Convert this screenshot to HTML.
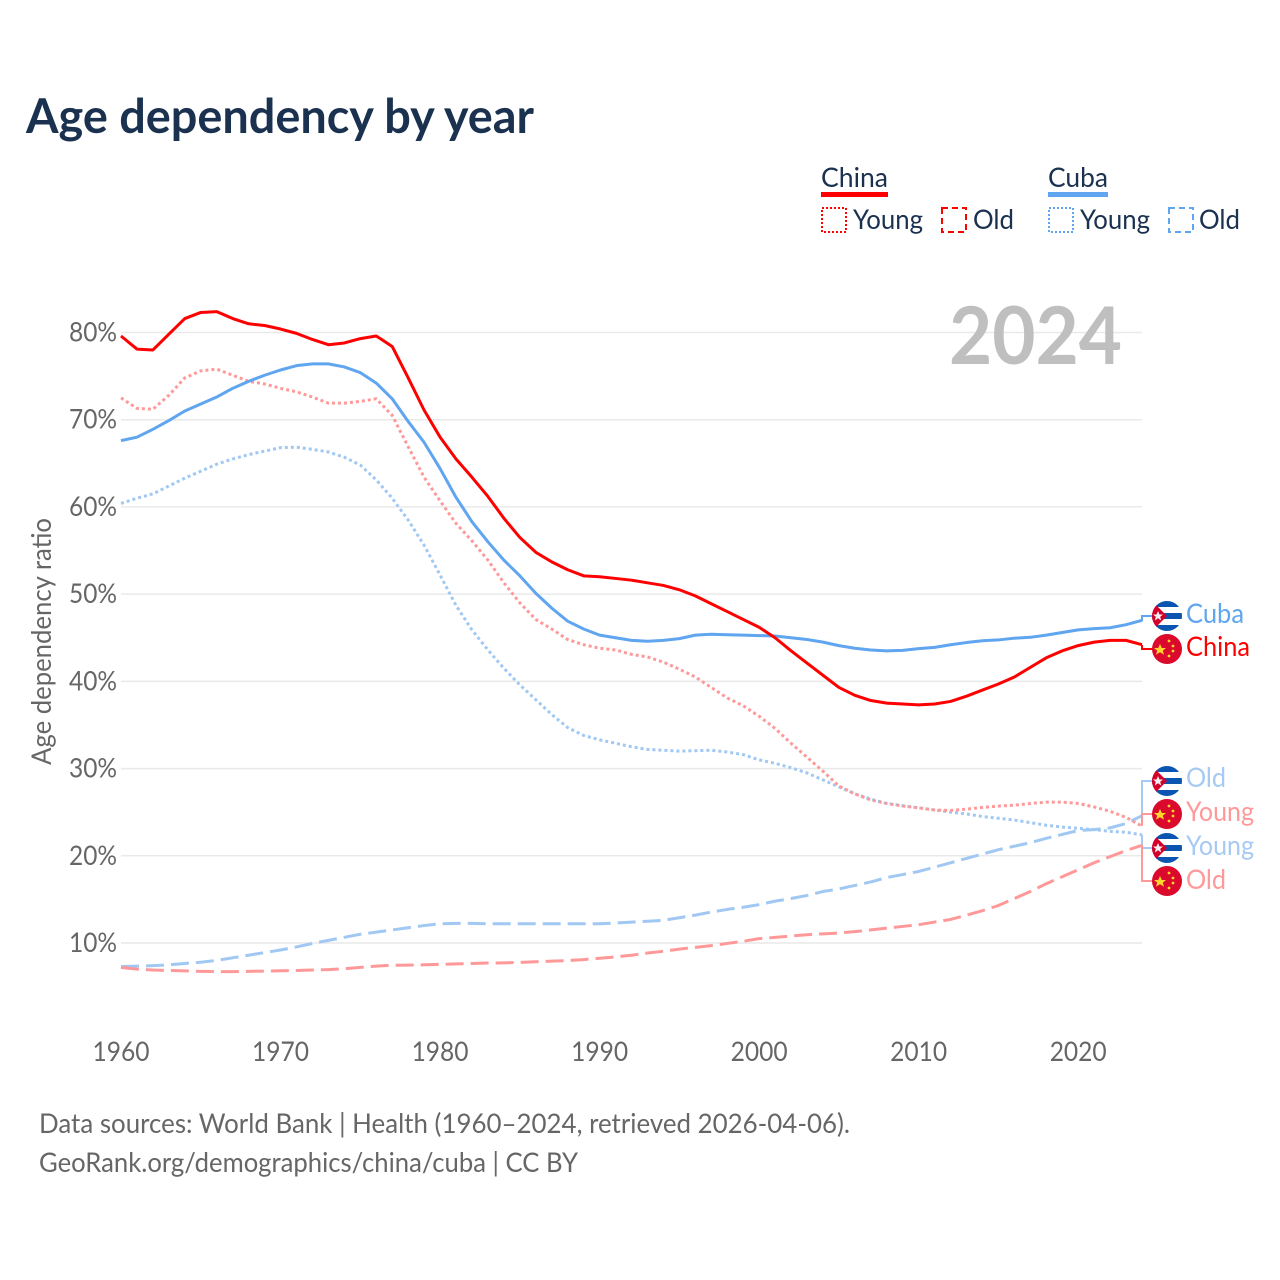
<!DOCTYPE html>
<html><head><meta charset="utf-8"><title>Age dependency by year</title>
<style>
html,body{margin:0;padding:0;background:#fff}
svg{display:block}
text{font-family:"Lato","Carlito","Liberation Sans",sans-serif}
</style></head>
<body>
<svg id="chart" width="1280" height="1280" viewBox="0 0 1280 1280" xmlns="http://www.w3.org/2000/svg">
<defs>
<clipPath id="flagClip"><circle cx="0" cy="0" r="15"/></clipPath>
<g id="cuba-flag" clip-path="url(#flagClip)">
<rect x="-15" y="-15" width="30" height="30" fill="#fff"/>
<rect x="-15" y="-15" width="30" height="6" fill="#0a55b0"/>
<rect x="-15" y="-3" width="30" height="6" fill="#0a55b0"/>
<rect x="-15" y="9" width="30" height="6" fill="#0a55b0"/>
<polygon points="-15,-15 0,0 -15,15" fill="#d5002a"/>
<polygon points="-9,-5 -7.5,-1.5 -4,-1.5 -6.8,0.8 -5.8,4.5 -9,2.3 -12.2,4.5 -11.2,0.8 -14,-1.5 -10.5,-1.5" fill="#f2f2f2"/>
</g>
<g id="china-flag" clip-path="url(#flagClip)">
<rect x="-15" y="-15" width="30" height="30" fill="#db0a2c"/>
<polygon points="-7,-5 -5.2,-1 -1,-1 -4.2,1.6 -3,5.6 -7,3.2 -11,5.6 -9.8,1.6 -13,-1 -8.8,-1" fill="#ffd52e"/>
<circle cx="2" cy="-8" r="1.4" fill="#ffd52e"/><circle cx="6" cy="-3" r="1.4" fill="#ffd52e"/><circle cx="6" cy="2" r="1.4" fill="#ffd52e"/><circle cx="2" cy="7" r="1.4" fill="#ffd52e"/>
</g>
</defs>
<text x="26" y="133" font-size="48" font-weight="700" fill="#1a3150" textLength="508" lengthAdjust="spacingAndGlyphs">Age dependency by year</text>

<g font-size="27" fill="#1a3150">
<text x="821" y="187" textLength="67" lengthAdjust="spacingAndGlyphs">China</text>
<rect x="821" y="192" width="67" height="5" fill="#ff0000"/>
<rect x="822" y="208" width="24" height="24" fill="none" stroke="#ff0000" stroke-width="2" stroke-dasharray="2 2"/>
<text x="853" y="229" textLength="70" lengthAdjust="spacingAndGlyphs">Young</text>
<rect x="942" y="208" width="24" height="24" fill="none" stroke="#ff0000" stroke-width="2" stroke-dasharray="6 4"/>
<text x="973" y="229" textLength="41" lengthAdjust="spacingAndGlyphs">Old</text>
<text x="1048" y="187" textLength="60" lengthAdjust="spacingAndGlyphs">Cuba</text>
<rect x="1048" y="192" width="60" height="5" fill="#5fa5ef"/>
<rect x="1049" y="208" width="24" height="24" fill="none" stroke="#5fa5ef" stroke-width="2" stroke-dasharray="2 2"/>
<text x="1080" y="229" textLength="70" lengthAdjust="spacingAndGlyphs">Young</text>
<rect x="1169" y="208" width="24" height="24" fill="none" stroke="#5fa5ef" stroke-width="2" stroke-dasharray="6 4"/>
<text x="1199" y="229" textLength="41" lengthAdjust="spacingAndGlyphs">Old</text>
</g>

<g id="grid"></g>
<text x="949" y="364" font-size="80" font-weight="700" fill="#bfbfbf" textLength="173" lengthAdjust="spacingAndGlyphs">2024</text>
<text transform="translate(51,765) rotate(-90)" x="0" y="0" font-size="27" fill="#666" textLength="247" lengthAdjust="spacingAndGlyphs">Age dependency ratio</text>
<g id="series"></g>

<g fill="none" stroke-width="2">
<polyline points="1142,621 1142,616 1153,616" stroke="#5fa5ef"/>
<polyline points="1142,645 1142,649 1153,649" stroke="#ff0000"/>
<polyline points="1142,817 1142,781 1153,781" stroke="#a6caf4"/>
<polyline points="1142,826 1142,814 1153,814" stroke="#ff9999"/>
<polyline points="1142,835 1142,848 1153,848" stroke="#a6caf4"/>
<polyline points="1142,845 1142,881 1153,881" stroke="#ff9999"/>
</g>
<g font-size="27">
<use href="#cuba-flag" x="1167" y="616"/>
<text x="1186" y="623" fill="#5fa5ef" textLength="58" lengthAdjust="spacingAndGlyphs">Cuba</text>
<use href="#china-flag" x="1167" y="649"/>
<text x="1186" y="656" fill="#ff0000" textLength="64" lengthAdjust="spacingAndGlyphs">China</text>
<use href="#cuba-flag" x="1167" y="781"/>
<text x="1186" y="787" fill="#a6caf4" textLength="40" lengthAdjust="spacingAndGlyphs">Old</text>
<use href="#china-flag" x="1167" y="814"/>
<text x="1186" y="821" fill="#ff9999" textLength="68" lengthAdjust="spacingAndGlyphs">Young</text>
<use href="#cuba-flag" x="1167" y="848"/>
<text x="1186" y="855" fill="#a6caf4" textLength="68" lengthAdjust="spacingAndGlyphs">Young</text>
<use href="#china-flag" x="1167" y="881"/>
<text x="1186" y="889" fill="#ff9999" textLength="40" lengthAdjust="spacingAndGlyphs">Old</text>
</g>

<g font-size="27" fill="#666">
<text x="39" y="1133" textLength="811" lengthAdjust="spacingAndGlyphs">Data sources: World Bank | Health (1960–2024, retrieved 2026-04-06).</text>
<text x="39" y="1172" textLength="539" lengthAdjust="spacingAndGlyphs">GeoRank.org/demographics/china/cuba | CC BY</text>
</g>

<script>
const startYear = 1960;
const yTicks = [10, 20, 30, 40, 50, 60, 70, 80];
const xTicks = [1960, 1970, 1980, 1990, 2000, 2010, 2020];
const chinaTotal = [79.6,78.1,78.0,79.8,81.6,82.3,82.4,81.6,81.0,80.8,80.4,79.9,79.2,78.6,78.8,79.3,79.6,78.4,74.8,71.1,68.0,65.5,63.4,61.2,58.7,56.5,54.8,53.7,52.8,52.1,52.0,51.8,51.6,51.3,51.0,50.5,49.8,48.9,48.0,47.1,46.2,45.0,43.5,42.1,40.7,39.3,38.4,37.8,37.5,37.4,37.3,37.4,37.7,38.3,39.0,39.7,40.5,41.6,42.7,43.5,44.1,44.5,44.7,44.7,44.2];
const cubaTotal = [67.6,68.0,68.9,69.9,71.0,71.8,72.6,73.6,74.4,75.1,75.7,76.2,76.4,76.4,76.05,75.4,74.2,72.4,69.8,67.4,64.4,61.1,58.3,56.0,53.9,52.1,50.1,48.4,46.9,46.0,45.3,45.0,44.7,44.6,44.7,44.9,45.3,45.4,45.35,45.3,45.25,45.2,45.0,44.8,44.5,44.1,43.8,43.6,43.5,43.55,43.75,43.9,44.2,44.45,44.65,44.75,44.95,45.05,45.3,45.6,45.9,46.05,46.15,46.5,47.0];
const chinaYoung = [72.5,71.3,71.2,72.8,74.8,75.6,75.8,75.1,74.4,74.1,73.6,73.2,72.6,71.9,71.9,72.1,72.4,70.5,66.9,63.4,60.7,58.1,56.1,53.9,51.3,49.0,47.1,46.0,44.8,44.2,43.8,43.6,43.1,42.8,42.2,41.4,40.5,39.3,38.1,37.2,36.0,34.6,32.9,31.3,29.7,28.0,27.1,26.4,26.0,25.7,25.5,25.25,25.2,25.35,25.55,25.7,25.8,26.0,26.15,26.15,26.0,25.6,25.1,24.4,23.4];
const chinaOld = [7.2,7.0,6.9,6.85,6.8,6.75,6.72,6.72,6.75,6.78,6.82,6.85,6.9,6.95,7.05,7.2,7.35,7.45,7.47,7.5,7.55,7.6,7.65,7.7,7.72,7.78,7.85,7.92,7.98,8.1,8.25,8.4,8.6,8.85,9.05,9.3,9.5,9.7,9.95,10.2,10.5,10.65,10.8,10.95,11.05,11.15,11.3,11.5,11.7,11.9,12.1,12.4,12.7,13.2,13.7,14.3,15.1,15.9,16.8,17.6,18.4,19.2,19.9,20.6,21.2];
const cubaYoung = [60.4,61.0,61.5,62.4,63.3,64.1,64.9,65.5,66.0,66.4,66.8,66.85,66.6,66.3,65.7,64.8,63.1,61.0,58.5,55.6,52.2,48.7,45.9,43.6,41.5,39.6,37.9,36.2,34.7,33.8,33.3,32.9,32.5,32.2,32.1,32.0,32.05,32.1,31.9,31.6,31.0,30.6,30.1,29.5,28.7,27.9,27.1,26.5,26.0,25.75,25.5,25.25,25.0,24.8,24.5,24.3,24.1,23.8,23.5,23.3,23.15,23.0,22.8,22.7,22.4];
const cubaOld = [7.3,7.35,7.4,7.5,7.65,7.8,8.0,8.3,8.6,8.9,9.2,9.55,9.95,10.3,10.65,11.0,11.25,11.5,11.75,12.0,12.2,12.25,12.25,12.2,12.2,12.2,12.2,12.2,12.2,12.2,12.2,12.3,12.4,12.5,12.6,12.9,13.2,13.55,13.85,14.1,14.4,14.8,15.1,15.45,15.9,16.2,16.6,17.0,17.5,17.85,18.2,18.7,19.2,19.7,20.2,20.7,21.1,21.5,22.0,22.45,22.9,23.0,23.2,23.7,24.6];

const NS = 'http://www.w3.org/2000/svg';
function xScale(year) { return 121 + (year - 1960) * (1142 - 121) / 64; }
function yScale(pct) { return 943 - (pct - 10) * (943 - 332.5) / 70; }

const grid = document.getElementById('grid');
yTicks.forEach(function (t) {
  const line = document.createElementNS(NS, 'line');
  
  
  line.setAttribute('x1', xScale(1960));
  line.setAttribute('x2', xScale(2024));
  line.setAttribute('y1', yScale(t));
  line.setAttribute('y2', yScale(t));
  line.setAttribute('stroke', '#e9e9e9');
  line.setAttribute('stroke-width', '1.5');
  grid.appendChild(line);
  const label = document.createElementNS(NS, 'text');
  
  
  label.setAttribute('x', 117);
  label.setAttribute('y', yScale(t) + 9);
  label.setAttribute('text-anchor', 'end');
  label.setAttribute('font-size', '27');
  label.setAttribute('fill', '#666');
  label.setAttribute('textLength', '48');
  label.setAttribute('lengthAdjust', 'spacingAndGlyphs');
  label.textContent = t + '%';
  grid.appendChild(label);
});
xTicks.forEach(function (t) {
  const label = document.createElementNS(NS, 'text');
  
  
  label.setAttribute('x', xScale(t));
  label.setAttribute('y', 1061);
  label.setAttribute('text-anchor', 'middle');
  label.setAttribute('font-size', '27');
  label.setAttribute('fill', '#666');
  label.setAttribute('textLength', '57');
  label.setAttribute('lengthAdjust', 'spacingAndGlyphs');
  label.textContent = t;
  grid.appendChild(label);
});

function drawSeries(values, color, width, dash, name) {
  const line = document.createElementNS(NS, 'polyline');
  
  
  line.setAttribute('points', values.map(function (v, i) { return xScale(startYear + i).toFixed(2) + ',' + yScale(v).toFixed(2); }).join(' '));
  line.setAttribute('fill', 'none');
  line.setAttribute('stroke', color);
  line.setAttribute('stroke-width', width);
  line.setAttribute('stroke-linejoin', 'round');
  if (dash) line.setAttribute('stroke-dasharray', dash);
  document.getElementById('series').appendChild(line);
}
drawSeries(cubaOld, '#a0c8f3', 3, '18 7', 'line-cuba-old');
drawSeries(chinaOld, '#ff9999', 3, '18 7', 'line-china-old');
drawSeries(cubaYoung, '#a0c8f3', 3, '3 3', 'line-cuba-young');
drawSeries(chinaYoung, '#ff9999', 3, '3 3', 'line-china-young');
drawSeries(cubaTotal, '#5fa5ef', 3, '', 'line-cuba-total');
drawSeries(chinaTotal, '#ff0000', 3, '', 'line-china-total');
</script>
</svg>
</body></html>
